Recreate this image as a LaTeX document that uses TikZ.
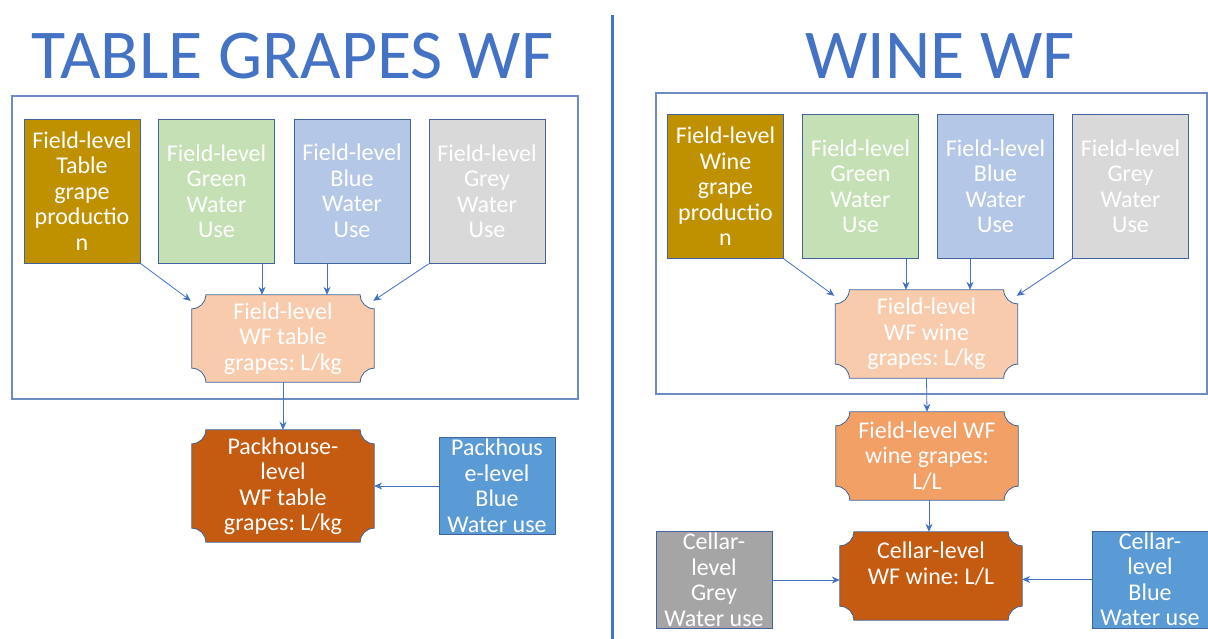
\documentclass[tikz,border=0pt]{standalone}
\usepackage{fontspec}
\setmainfont{Carlito}
\frenchspacing
\usetikzlibrary{arrows.meta,backgrounds}

\definecolor{titleblue}{HTML}{4472C4}
\definecolor{frameblue}{HTML}{6E8CC4}
\definecolor{edgeblue}{HTML}{41649C}
\definecolor{gold}{HTML}{BF9000}
\definecolor{paleGreen}{HTML}{C5E0B4}
\definecolor{paleBlue}{HTML}{B4C7E7}
\definecolor{paleGrey}{HTML}{D9D9D9}
\definecolor{peach}{HTML}{F8CBAD}
\definecolor{midOrange}{HTML}{F2A066}
\definecolor{rust}{HTML}{C55A11}
\definecolor{skyBlue}{HTML}{5B9BD5}
\definecolor{midGrey}{HTML}{A5A5A5}

% concave-cornered plaque drawn around a named node
\newlength\plr
\setlength\plr{14pt}
\newcommand\plaqueoutline[2]{%
  \path[fill=#2, draw=edgeblue, line width=0.8pt]
    ([xshift=\plr]#1.north west) -- ([xshift=-\plr]#1.north east)
    arc[start angle=180, end angle=270, radius=\plr]
    -- ([yshift=\plr]#1.south east)
    arc[start angle=90, end angle=180, radius=\plr]
    -- ([xshift=\plr]#1.south west)
    arc[start angle=0, end angle=90, radius=\plr]
    -- ([yshift=-\plr]#1.north west)
    arc[start angle=270, end angle=360, radius=\plr] -- cycle;}

\tikzset{
  x=1pt, y=1pt,
  boxtext/.style={text=white, align=center, inner sep=0pt,
    font=\fontsize{24}{25.5}\selectfont},
  tallbox/.style={boxtext, draw=edgeblue, line width=0.8pt, fill=#1,
    minimum width=116pt, minimum height=144pt},
  sidebox/.style={boxtext, draw=edgeblue, line width=0.8pt, fill=#1,
    minimum width=116pt, minimum height=97pt},
  plaque/.style={boxtext, minimum width=182pt, minimum height=#1},
  flow/.style={draw=titleblue, line width=0.8pt,
    -{Stealth[length=8pt,width=7pt]}},
  title/.style={text=titleblue, font=\fontsize{70}{80}\selectfont, inner sep=0pt},
  frame/.style={draw=frameblue, line width=1.2pt}
}

\begin{document}
\begin{tikzpicture}
\begin{pgfonlayer}{background}
  \fill[white] (0,0) rectangle (1208,-639);
\end{pgfonlayer}
\useasboundingbox (0,0) rectangle (1208,-639);

% column divider
\draw[titleblue, line width=3pt] (612,-15) -- (612,-639);

% ---------- table grapes ----------
\node[title] (tgTitle) at (292.5,-56) {TABLE GRAPES WF};
\draw[frame] (12,-96) rectangle (578,-399);

\node[tallbox=gold]      (tgProd)  at (82,-191)  {Field-level\\Table\\grape\\productio\\n};
\node[tallbox=paleGreen] (tgGreen) at (216.5,-191.5) {Field-level\\Green\\Water\\Use};
\node[tallbox=paleBlue]  (tgBlue)  at (352,-191) {Field-level\\Blue\\Water\\Use};
\node[tallbox=paleGrey]  (tgGrey)  at (487,-191.5) {Field-level\\Grey\\Water\\Use};

\node[plaque=87pt]  (tgField) at (283,-338.5) {Field-level\\WF table\\grapes: L/kg};
\node[plaque=112pt] (tgPack)  at (283,-486)   {Packhouse-\\level\\WF table\\grapes: L/kg};
\node[sidebox=skyBlue] (tgPackBlue) at (497,-486) {Packhous\\e-level\\Blue\\Water use};

\begin{pgfonlayer}{background}
  \plaqueoutline{tgField}{peach}
  \plaqueoutline{tgPack}{rust}
\end{pgfonlayer}

\draw[flow] (tgProd.south east) -- ([xshift=-1pt,yshift=-6pt]tgField.north west);
\draw[flow] (tgGreen.south -| 262,0) -- (tgField.north -| 262,0);
\draw[flow] (tgBlue.south -| 327,0) -- (tgField.north -| 327,0);
\draw[flow] (tgGrey.south west) -- ([xshift=-1pt,yshift=-6pt]tgField.north east);
\draw[flow] (tgField.south) -- (tgPack.north);
\draw[flow] (tgPackBlue.west) -- (tgPack.east);

% ---------- wine ----------
\node[title] (wTitle) at (940,-56) {WINE WF};
\draw[frame] (656,-93) rectangle (1207,-394);

\node[tallbox=gold]      (wProd)  at (725.5,-186.5) {Field-level\\Wine\\grape\\productio\\n};
\node[tallbox=paleGreen] (wGreen) at (860.5,-186.5) {Field-level\\Green\\Water\\Use};
\node[tallbox=paleBlue]  (wBlue)  at (995.5,-186.5) {Field-level\\Blue\\Water\\Use};
\node[tallbox=paleGrey]  (wGrey)  at (1130.5,-186.5) {Field-level\\Grey\\Water\\Use};

\node[plaque=88pt] (wFieldKg) at (926.5,-334) {Field-level\\WF wine\\grapes: L/kg};
\node[plaque=88pt] (wFieldL)  at (927,-456)   {Field-level WF\\wine grapes:\\L/L};
\node[plaque=88pt] (wCellar)  at (931,-576)   {Cellar-level\\WF wine: L/L\\\mbox{}};
\node[sidebox=midGrey] (wCellarGrey) at (714,-580)  {Cellar-\\level\\Grey\\Water use};
\node[sidebox=skyBlue] (wCellarBlue) at (1150,-579.5) {Cellar-\\level\\Blue\\Water use};

\begin{pgfonlayer}{background}
  \plaqueoutline{wFieldKg}{peach}
  \plaqueoutline{wFieldL}{midOrange}
  \plaqueoutline{wCellar}{rust}
\end{pgfonlayer}

\draw[flow] (wProd.south east) -- ([xshift=-1pt,yshift=-6pt]wFieldKg.north west);
\draw[flow] (wGreen.south -| 906,0) -- (wFieldKg.north -| 906,0);
\draw[flow] (wBlue.south -| 970,0) -- (wFieldKg.north -| 970,0);
\draw[flow] (wGrey.south west) -- ([xshift=-1pt,yshift=-6pt]wFieldKg.north east);
\draw[flow] (wFieldKg.south) -- (wFieldL.north);
\draw[flow] (wFieldL.south -| 929,0) -- (wCellar.north -| 929,0);
\draw[flow] (wCellarGrey.east) -- (wCellarGrey.east -| wCellar.west);
\draw[flow] (wCellarBlue.west) -- (wCellarBlue.west -| wCellar.east);
\end{tikzpicture}
\end{document}
